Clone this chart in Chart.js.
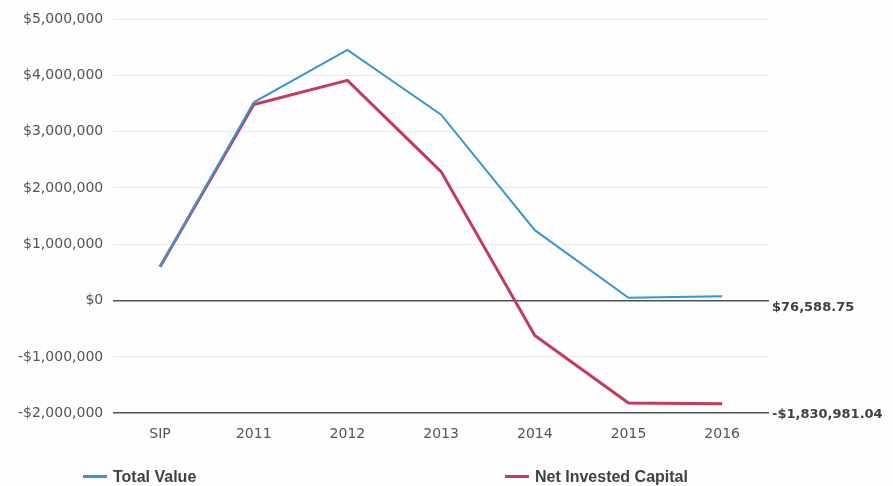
<!DOCTYPE html>
<html>
<head>
<meta charset="utf-8">
<script src="https://cdn.jsdelivr.net/npm/chart.js@4/dist/chart.umd.min.js"></script>
<style>
  html, body { margin: 0; padding: 0; background: #fdfdfd; }
  #wrap { position: relative; width: 893px; height: 486px; overflow: hidden; }
  .leg { position: absolute; top: 468px; line-height: 20px; font: bold 16px "Liberation Sans", Arial, sans-serif; color: #3f4244; white-space: nowrap; }
  .leg i { display: inline-block; width: 24px; height: 3px; vertical-align: middle; margin-right: 6px; position: relative; top: -1px; }
</style>
</head>
<body>
<div id="wrap">
  <canvas id="c" width="893" height="486"></canvas>
  <div class="leg" style="left:83px"><i style="background:#3b96cf"></i>Total Value</div>
  <div class="leg" style="left:505px"><i style="background:#c23a5c"></i>Net Invested Capital</div>
</div>
<script>
// données
const categories = ['SIP', '2011', '2012', '2013', '2014', '2015', '2016'];
const totalValue = [600000, 3520000, 4450000, 3300000, 1250000, 50000, 76588.75];
const netInvested = [600000, 3480000, 3910000, 2290000, -620000, -1820000, -1830981.04];
const yTicks = [5000000, 4000000, 3000000, 2000000, 1000000, 0, -1000000, -2000000];
const endLabels = ['$76,588.75', '-$1,830,981.04'];
const endLabelAt = [0, -2000000]; // lignes foncées où les étiquettes sont posées
const endLabelShift = [7, 1];

function money(v) {
  const s = '$' + Math.abs(v).toLocaleString('en-US');
  return v < 0 ? '-' + s : s;
}

// étiquettes à droite du graphique
const endLabelPlugin = {
  id: 'endLabels',
  afterDraw(chart) {
    const { ctx, chartArea } = chart;
    const y = chart.scales.y;
    ctx.save();
    ctx.font = 'bold 13px "DejaVu Sans", sans-serif';
    ctx.fillStyle = '#3f4244';
    ctx.textBaseline = 'middle';
    endLabels.forEach((txt, i) => {
      const py = y.getPixelForValue(endLabelAt[i]);
      ctx.fillText(txt, chartArea.right + 3, py + endLabelShift[i]);
    });
    ctx.restore();
  }
};

const darkLine = v => v === 0 || v === -2000000;

new Chart(document.getElementById('c'), {
  type: 'line',
  data: {
    labels: categories,
    datasets: [
      {
        label: 'Total Value',
        data: totalValue,
        borderColor: '#3b96cf',
        borderWidth: 2,
        pointRadius: 0,
        tension: 0
      },
      {
        label: 'Net Invested Capital',
        data: netInvested,
        borderColor: '#c23a5c',
        borderWidth: 3,
        pointRadius: 0,
        tension: 0
      }
    ]
  },
  options: {
    responsive: false,
    animation: false,
    layout: { padding: { top: 19, right: 124, bottom: 38, left: 8 } },
    plugins: { legend: { display: false }, tooltip: { enabled: false } },
    scales: {
      x: {
        offset: true,
        grid: { display: false },
        border: { display: false },
        ticks: { color: '#555', font: { size: 14, family: '"DejaVu Sans", sans-serif' }, padding: 5 }
      },
      y: {
        min: -2000000,
        max: 5000000,
        afterBuildTicks(axis) { axis.ticks = yTicks.map(v => ({ value: v })); },
        border: { display: false },
        grid: {
          drawTicks: false,
          color: ctx => darkLine(ctx.tick.value) ? '#505050' : '#eaeaea',
          lineWidth: ctx => darkLine(ctx.tick.value) ? 1.6 : 1
        },
        ticks: {
          color: '#555',
          padding: 10,
          font: { size: 14, family: '"DejaVu Sans", sans-serif' },
          callback: v => money(v)
        }
      }
    }
  },
  plugins: [endLabelPlugin]
});
</script>
</body>
</html>
